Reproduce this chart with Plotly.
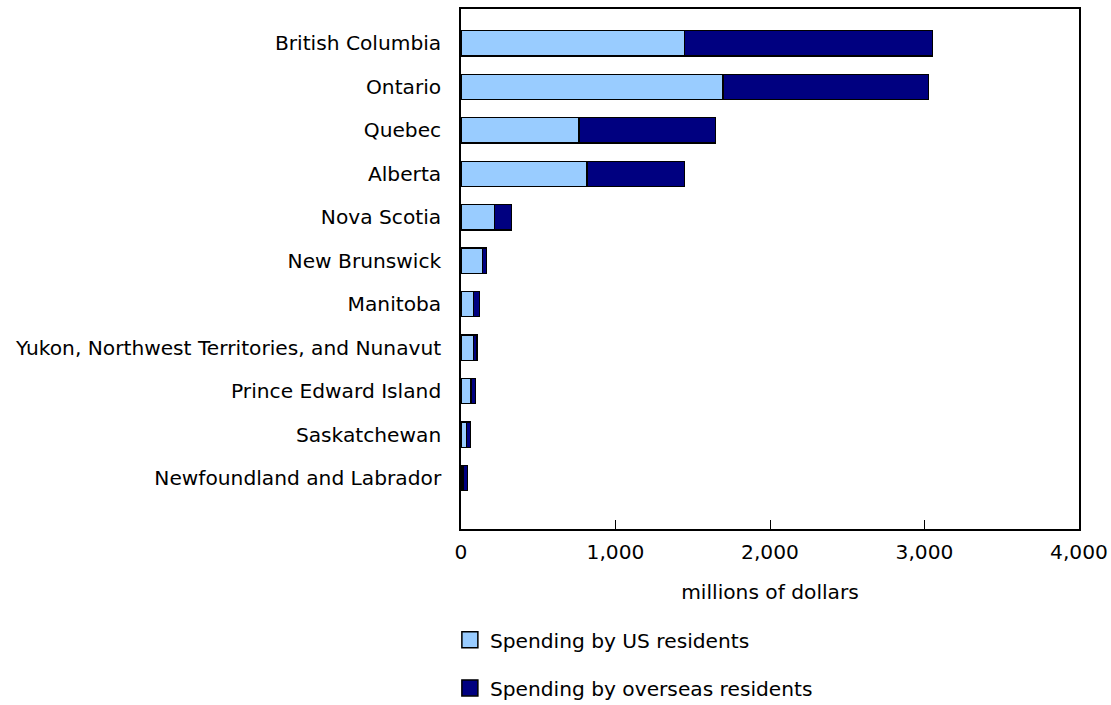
import plotly.graph_objects as go

provinces = [
    "British Columbia", "Ontario", "Quebec", "Alberta", "Nova Scotia",
    "New Brunswick", "Manitoba", "Yukon, Northwest Territories, and Nunavut",
    "Prince Edward Island", "Saskatchewan", "Newfoundland and Labrador",
]
us_spending = [1448, 1695, 763, 815, 215, 138, 80, 80, 65, 37, 13]
overseas_spending = [1604, 1330, 885, 633, 113, 26, 41, 23, 30, 26, 30]
series_names = ["Spending by US residents", "Spending by overseas residents"]
series_colors = ["#99CCFF", "#000080"]
x_ticks = [0, 1000, 2000, 3000, 4000]
x_ticklabels = ["0", "1,000", "2,000", "3,000", "4,000"]

FONT = "DejaVu Sans, Verdana, sans-serif"
FS = 20.2

fig = go.Figure()
for vals, name, col in zip([us_spending, overseas_spending], series_names, series_colors):
    fig.add_trace(go.Bar(
        y=provinces, x=vals, orientation="h", name=name,
        marker=dict(color=col, line=dict(color="#000000", width=1.3)),
        width=0.58, showlegend=False,
    ))
# legend entries with larger square symbols
for i, (name, col) in enumerate(zip(series_names, series_colors)):
    fig.add_trace(go.Scatter(
        x=[None], y=[None], mode="markers", name=name,
        marker=dict(symbol="square", size=20, color=col, line=dict(color="#000000", width=1.5)),
        legendgroup=f"g{i}", showlegend=True,
    ))

W, H = 1111, 705
plot_l, plot_r, plot_t, plot_b = 461, 1079, 9, 529
fig.update_layout(
    barmode="stack",
    width=W, height=H,
    margin=dict(l=plot_l, r=W - plot_r, t=plot_t, b=H - plot_b, autoexpand=False),
    plot_bgcolor="white", paper_bgcolor="white",
    font=dict(family=FONT, size=FS, color="#000000"),
    showlegend=True,
    legend=dict(
        orientation="v", x=-0.018, xanchor="left", y=-0.175, yanchor="top",
        traceorder="grouped", tracegroupgap=19, font=dict(size=FS, family=FONT),
        itemsizing="trace", bgcolor="rgba(0,0,0,0)",
    ),
    xaxis=dict(
        range=[0, 4000], tickvals=x_ticks, ticktext=x_ticklabels,
        showgrid=False, zeroline=False, automargin=False,
        showline=True, linecolor="#000000", linewidth=1.5, mirror=True,
        ticks="inside", ticklen=9, tickcolor="#000000", tickwidth=1.3,
        ticklabelstandoff=4,
        title=dict(text="millions of dollars", standoff=22, font=dict(size=FS, family=FONT)),
    ),
    yaxis=dict(
        type="category", categoryorder="array", categoryarray=provinces,
        range=[11.17, -0.79], showgrid=False, zeroline=False, automargin=False,
        showline=True, linecolor="#000000", linewidth=1.5, mirror=True,
        ticks="", ticklabelstandoff=14,
    ),
)

fig.write_html(
    "out.html",
    config={"displayModeBar": False},
    post_script="document.documentElement.style.margin='0';document.body.style.margin='0';"
                "document.body.style.overflow='hidden';",
)
